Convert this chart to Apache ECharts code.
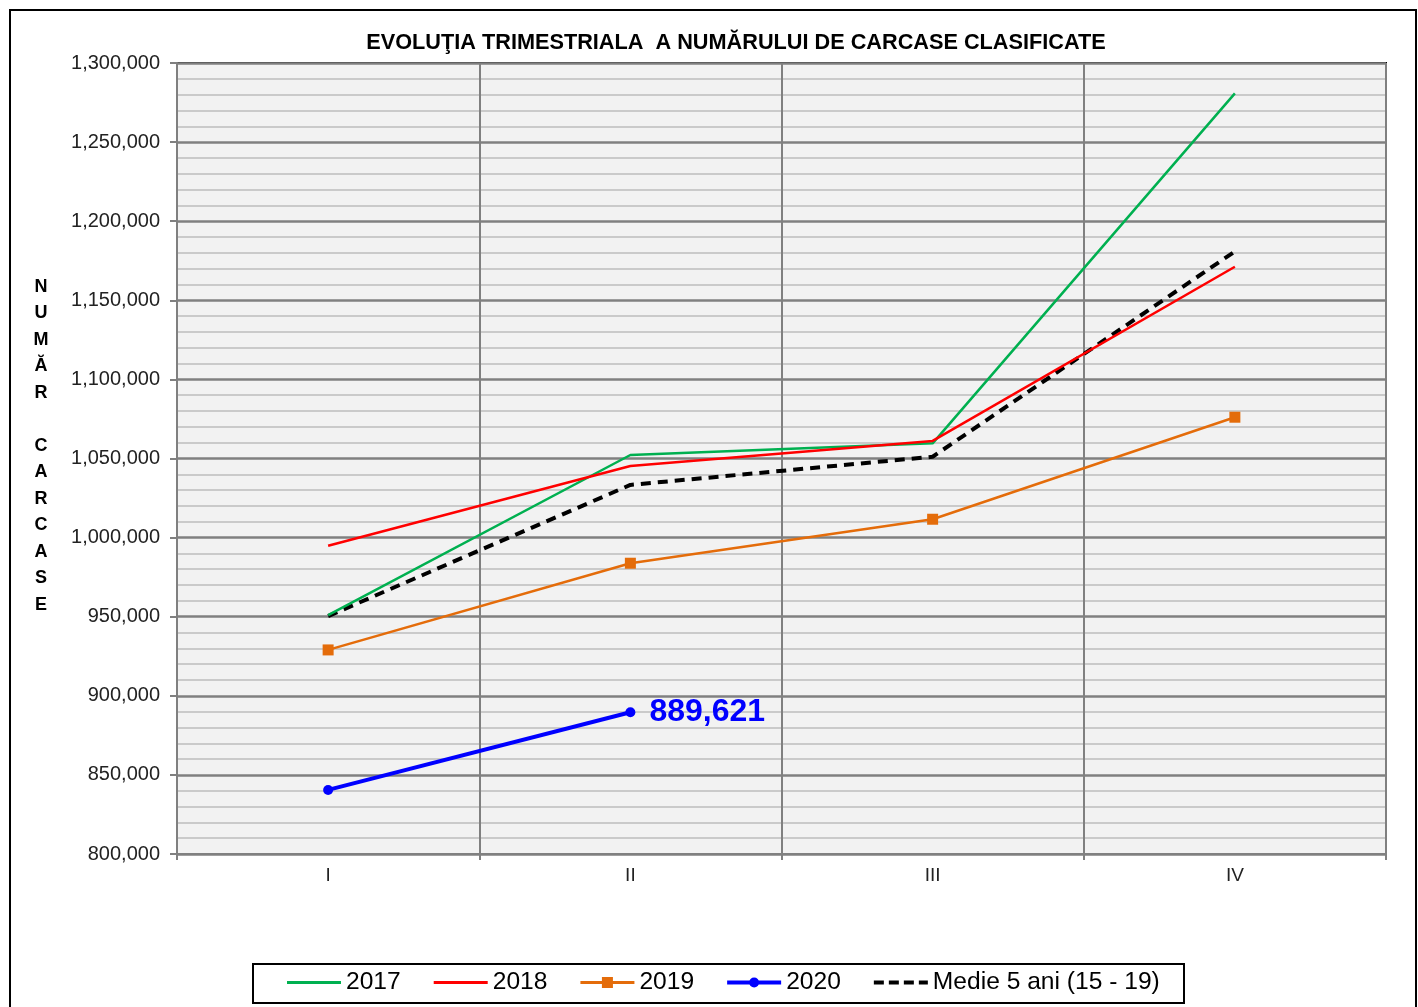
<!DOCTYPE html>
<html>
<head>
<meta charset="utf-8">
<script src="https://cdn.jsdelivr.net/npm/echarts@6/dist/echarts.min.js"></script>
<style>
  html, body { margin: 0; padding: 0; background: #fff; }
  #main { width: 1418px; height: 1007px; }
</style>
</head>
<body>
<div id="main"></div>
<script>
// trimestre
var quarters = ['I', 'II', 'III', 'IV'];
// carcase clasificate pe an
var s2017 = [951000, 1052200, 1059600, 1280800];
var s2018 = [994900, 1045300, 1061100, 1171200];
var s2019 = [929000, 983800, 1011600, 1076100];
var s2020 = [840500, 889621];
var medie = [950400, 1033300, 1051100, 1180900];
var yTicks = { min: 800000, max: 1300000, step: 50000 };

var fontMain = 'Liberation Sans, Arial, sans-serif';

function fmt(v) {
    return Number(v).toLocaleString('en-US');
}

// iconite legenda (linie simpla, linie + marker, linie punctata)
var iconLine = 'path://M0,4.5 h54 v3 h-54 Z';
var iconRect = 'path://M0,4.5 h54 v3 h-54 Z M21.5,0.5 h11 v11 h-11 Z';
var iconDot = 'path://M0,4 h54 v4 h-54 Z M22,6 a5,5 0 1,1 10,0 a5,5 0 1,1 -10,0 Z';
var iconDash = 'path://M0,4 h10 v4 h-10 Z M15,4 h10 v4 h-10 Z M30,4 h10 v4 h-10 Z M45,4 h9 v4 h-9 Z';

var chart = echarts.init(document.getElementById('main'));

var option = {
    animation: false,
    backgroundColor: '#fff',
    title: {
        text: 'EVOLUŢIA TRIMESTRIALA  A NUMĂRULUI DE CARCASE CLASIFICATE',
        left: 731,
        textAlign: 'center',
        top: 27,
        textStyle: {
            fontFamily: fontMain,
            fontSize: 21.7,
            fontWeight: 'bold',
            color: '#000'
        }
    },
    grid: {
        left: 177,
        right: 32,
        top: 63,
        bottom: 153,
        show: true,
        backgroundColor: '#f2f2f2',
        borderColor: '#000',
        borderWidth: 2
    },
    legend: {
        left: 287,
        top: 970,
        itemWidth: 54,
        itemHeight: 12,
        itemGap: 33,
        padding: 0,
        textStyle: {
            fontFamily: fontMain,
            fontSize: 24.6,
            color: '#000'
        },
        data: [
            { name: '2017', icon: iconLine },
            { name: '2018', icon: iconLine },
            { name: '2019', icon: iconRect },
            { name: '2020', icon: iconDot },
            { name: 'Medie 5 ani (15 - 19)', icon: iconDash }
        ]
    },
    xAxis: {
        type: 'category',
        data: quarters,
        boundaryGap: true,
        axisLine: { lineStyle: { color: '#808080', width: 2 } },
        axisTick: { show: true, length: 6, lineStyle: { color: '#808080', width: 2 } },
        axisLabel: { fontFamily: fontMain, fontSize: 19, color: '#222', margin: 12 },
        splitLine: { show: true, lineStyle: { color: '#808080', width: 2 } }
    },
    yAxis: {
        type: 'value',
        min: yTicks.min,
        max: yTicks.max,
        interval: yTicks.step,
        axisLine: { show: true, lineStyle: { color: '#808080', width: 2 } },
        axisTick: { show: true, length: 7, lineStyle: { color: '#808080', width: 2 } },
        axisLabel: {
            fontFamily: fontMain,
            fontSize: 20,
            color: '#222',
            margin: 17,
            formatter: fmt
        },
        splitLine: { show: true, lineStyle: { color: '#808080', width: 2.5 } },
        minorTick: { show: false, splitNumber: 5 },
        minorSplitLine: { show: true, lineStyle: { color: '#bdbdbd', width: 1.5 } }
    },
    series: [
        {
            name: '2017',
            type: 'line',
            data: s2017,
            symbol: 'none',
            color: '#00b050',
            lineStyle: { color: '#00b050', width: 2.5 },
            z: 3
        },
        {
            name: '2018',
            type: 'line',
            data: s2018,
            symbol: 'none',
            color: '#ff0000',
            lineStyle: { color: '#ff0000', width: 2.5 },
            z: 4
        },
        {
            name: '2019',
            type: 'line',
            data: s2019,
            symbol: 'rect',
            symbolSize: 11,
            color: '#e46c0a',
            itemStyle: { color: '#e46c0a' },
            lineStyle: { color: '#e46c0a', width: 2.5 }
        },
        {
            name: '2020',
            type: 'line',
            data: s2020,
            symbol: 'circle',
            symbolSize: 10,
            color: '#0000ff',
            itemStyle: { color: '#0000ff' },
            lineStyle: { color: '#0000ff', width: 4 },
            label: {
                show: true,
                position: 'right',
                distance: 14,
                fontFamily: fontMain,
                fontSize: 32,
                fontWeight: 'bold',
                color: '#0000ff',
                formatter: function (p) {
                    return p.dataIndex === s2020.length - 1 ? fmt(p.value) : '';
                }
            }
        },
        {
            name: 'Medie 5 ani (15 - 19)',
            type: 'line',
            data: medie,
            symbol: 'none',
            color: '#000',
            lineStyle: { color: '#000', width: 4, type: [10, 7] },
            z: 2
        }
    ],
    graphic: [
        {
            type: 'rect',
            shape: { x: 10, y: 10, width: 1406, height: 1010 },
            style: { fill: null, stroke: '#000', lineWidth: 2 },
            silent: true
        },
        {
            type: 'rect',
            shape: { x: 253, y: 964, width: 931, height: 39 },
            style: { fill: null, stroke: '#000', lineWidth: 2 },
            silent: true
        },
        {
            type: 'text',
            x: 41,
            y: 446,
            style: {
                text: 'N\nU\nM\nĂ\nR\n \nC\nA\nR\nC\nA\nS\nE',
                fontFamily: fontMain,
                fontSize: 18,
                fontWeight: 'bold',
                lineHeight: 26.5,
                fill: '#000',
                align: 'center',
                verticalAlign: 'middle'
            }
        }
    ]
};

chart.setOption(option);
</script>
</body>
</html>
